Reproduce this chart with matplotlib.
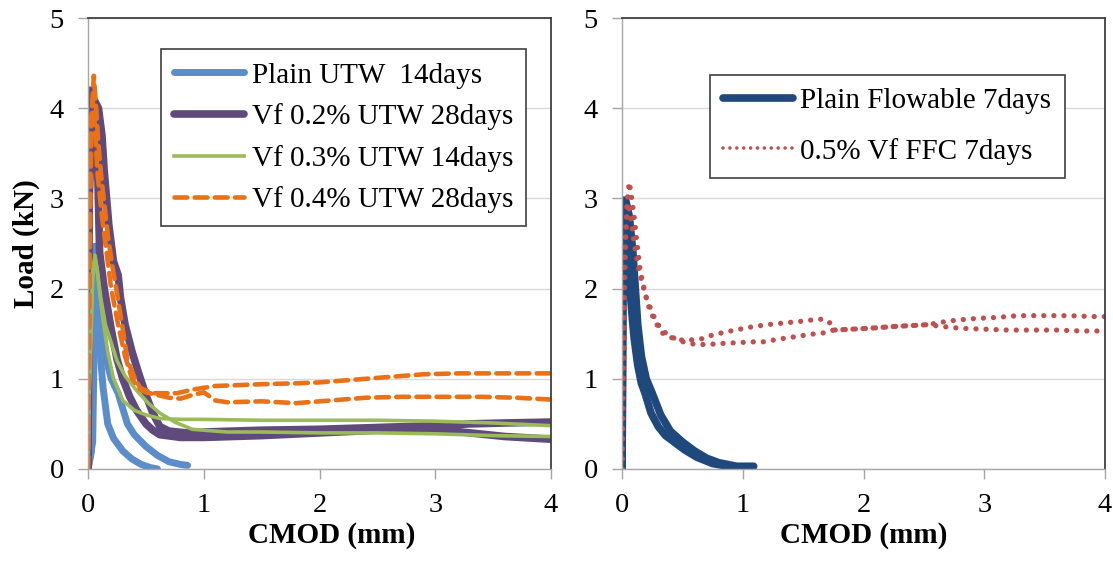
import matplotlib.pyplot as plt
from matplotlib.lines import Line2D

plt.rcParams['font.family'] = ['Liberation Serif', 'DejaVu Serif']

# ---- UTW specimens (two traces per mix) ----
plain_utw_a_x = [0.0, 0.03, 0.05, 0.06, 0.07, 0.09, 0.11, 0.13, 0.17, 0.22, 0.30, 0.38, 0.46, 0.54, 0.60]
plain_utw_a_y = [0.0, 0.2, 1.6, 2.47, 2.3, 1.7, 1.2, 0.9, 0.5, 0.34, 0.2, 0.11, 0.05, 0.015, 0.0]
plain_utw_b_x = [0.0, 0.04, 0.06, 0.07, 0.09, 0.12, 0.16, 0.20, 0.26, 0.34, 0.40, 0.50, 0.60, 0.70, 0.80, 0.86]
plain_utw_b_y = [0.0, 0.3, 1.9, 2.25, 2.0, 1.6, 1.2, 1.0, 0.84, 0.5, 0.38, 0.25, 0.15, 0.08, 0.05, 0.04]

vf02_a_x = [0.0, 0.005, 0.02, 0.05, 0.09, 0.12, 0.14, 0.18, 0.22, 0.26, 0.28, 0.32, 0.38, 0.44, 0.50,
            0.56, 0.62, 0.7, 0.85, 1.0, 1.5, 2.0, 2.5, 3.0, 3.3, 3.6, 4.0]
vf02_a_y = [0.0, 2.5, 4.2, 4.1, 4.0, 3.7, 3.3, 2.7, 2.3, 2.15, 1.9, 1.6, 1.3, 1.05, 0.82,
            0.62, 0.47, 0.42, 0.40, 0.41, 0.43, 0.44, 0.46, 0.48, 0.50, 0.51, 0.52]
vf02_b_x = [0.0, 0.01, 0.03, 0.06, 0.08, 0.10, 0.14, 0.2, 0.25, 0.3, 0.36, 0.42, 0.5, 0.56, 0.62,
            0.8, 1.0, 1.5, 2.0, 2.5, 2.8, 3.0, 3.3, 3.6, 4.0]
vf02_b_y = [0.0, 3.0, 3.7, 3.9, 3.5, 2.4, 2.0, 1.55, 1.22, 1.0, 0.8, 0.65, 0.5, 0.43, 0.38,
            0.35, 0.35, 0.37, 0.40, 0.43, 0.45, 0.44, 0.40, 0.36, 0.33]

vf03_a_x = [0.0, 0.01, 0.04, 0.06, 0.08, 0.10, 0.13, 0.17, 0.22, 0.30, 0.40, 0.50, 0.62, 0.8, 1.0,
            1.5, 2.0, 2.5, 3.0, 3.5, 4.0]
vf03_a_y = [0.0, 0.8, 2.1, 2.37, 2.2, 1.95, 1.65, 1.3, 1.0, 0.76, 0.65, 0.6, 0.56, 0.55, 0.55,
            0.54, 0.54, 0.54, 0.53, 0.51, 0.48]
vf03_b_x = [0.0, 0.01, 0.04, 0.06, 0.08, 0.11, 0.15, 0.2, 0.25, 0.32, 0.42, 0.52, 0.62, 0.75, 0.9,
            1.2, 1.5, 2.0, 2.5, 3.0, 3.5, 4.0]
vf03_b_y = [0.0, 0.9, 2.2, 2.35, 2.2, 1.9, 1.6, 1.4, 1.2, 1.03, 0.87, 0.73, 0.62, 0.52, 0.44,
            0.41, 0.41, 0.40, 0.40, 0.39, 0.37, 0.36]

vf04_a_x = [0.0, 0.01, 0.03, 0.05, 0.07, 0.09, 0.11, 0.13, 0.17, 0.21, 0.25, 0.30, 0.34, 0.40, 0.45,
            0.5, 0.56, 0.65, 0.77, 0.9, 1.0, 1.1, 1.3, 1.5, 1.8, 2.0, 2.3, 2.6, 2.9, 3.2, 3.5, 3.8, 4.0]
vf04_a_y = [0.0, 2.0, 3.9, 4.36, 4.0, 3.6, 3.3, 3.06, 2.6, 2.25, 1.95, 1.55, 1.21, 1.02, 0.9,
            0.87, 0.84, 0.84, 0.84, 0.88, 0.90, 0.92, 0.93, 0.94, 0.95, 0.96, 0.99, 1.02, 1.05, 1.06,
            1.06, 1.06, 1.06]
vf04_b_x = [0.0, 0.01, 0.02, 0.04, 0.06, 0.08, 0.12, 0.16, 0.2, 0.26, 0.32, 0.38, 0.45, 0.5, 0.6,
            0.7, 0.8, 0.9, 1.0, 1.1, 1.2, 1.5, 1.8, 2.1, 2.4, 2.7, 3.0, 3.4, 3.7, 4.0]
vf04_b_y = [0.0, 1.5, 3.6, 4.1, 3.8, 3.3, 2.8, 2.4, 2.0, 1.6, 1.25, 1.0, 0.88, 0.85, 0.82,
            0.79, 0.78, 0.82, 0.85, 0.76, 0.74, 0.75, 0.73, 0.76, 0.79, 0.80, 0.80, 0.80, 0.79, 0.77]

# ---- flowable fill specimens ----
flow_a_x = [0.0, 0.005, 0.01, 0.03, 0.06, 0.09, 0.11, 0.13, 0.16, 0.20, 0.25, 0.32, 0.40, 0.50,
            0.60, 0.7, 0.8, 0.95, 1.09]
flow_a_y = [0.0, 1.5, 2.98, 2.98, 2.8, 2.4, 2.0, 1.6, 1.25, 1.0, 0.84, 0.6, 0.42, 0.3,
            0.2, 0.12, 0.07, 0.03, 0.03]
flow_b_x = [0.0, 0.005, 0.01, 0.02, 0.04, 0.06, 0.08, 0.10, 0.13, 0.16, 0.19, 0.24, 0.3, 0.36,
            0.43, 0.52, 0.62, 0.75, 0.9, 1.05]
flow_b_y = [0.0, 1.5, 2.9, 2.85, 2.5, 2.1, 1.75, 1.45, 1.15, 0.95, 0.84, 0.62, 0.47, 0.37,
            0.3, 0.21, 0.13, 0.06, 0.025, 0.02]

ffc_a_x = [0.0, 0.01, 0.02, 0.04, 0.06, 0.08, 0.10, 0.12, 0.15, 0.19, 0.23, 0.28, 0.33, 0.40, 0.48,
           0.56, 0.65, 0.76, 0.9, 1.05, 1.2, 1.35, 1.5, 1.62, 1.68, 1.72, 1.75, 1.9, 2.05, 2.25,
           2.4, 2.53, 2.65, 2.8, 3.0, 3.2, 3.4, 3.6, 3.8, 4.0]
ffc_a_y = [0.0, 1.0, 2.2, 2.95, 3.18, 3.0, 2.8, 2.55, 2.2, 1.95, 1.76, 1.62, 1.51, 1.46, 1.43,
           1.43, 1.44, 1.49, 1.53, 1.57, 1.6, 1.62, 1.64, 1.66, 1.66, 1.62, 1.54, 1.55, 1.56, 1.58,
           1.59, 1.60, 1.58, 1.56, 1.55, 1.54, 1.54, 1.54, 1.53, 1.53]
ffc_b_x = [0.0, 0.01, 0.02, 0.03, 0.05, 0.07, 0.10, 0.14, 0.2, 0.26, 0.32, 0.40, 0.48, 0.56, 0.64,
           0.71, 0.8, 0.95, 1.1, 1.17, 1.3, 1.45, 1.6, 1.68, 1.75, 1.9, 2.05, 2.25, 2.4, 2.53,
           2.62, 2.7, 2.85, 2.95, 3.1, 3.28, 3.5, 3.7, 3.9, 4.0]
ffc_b_y = [0.0, 1.0, 2.0, 2.6, 2.95, 2.8, 2.5, 2.2, 1.9, 1.7, 1.55, 1.47, 1.42, 1.39, 1.38,
           1.38, 1.39, 1.40, 1.41, 1.41, 1.44, 1.47, 1.5, 1.51, 1.54, 1.55, 1.56, 1.58, 1.59, 1.60,
           1.62, 1.64, 1.66, 1.67, 1.68, 1.70, 1.70, 1.70, 1.69, 1.69]

x_ticks = [0, 1, 2, 3, 4]
y_ticks = [0, 1, 2, 3, 4, 5]

fig = plt.figure(figsize=(11.13, 5.63), dpi=100)
ax1 = fig.add_axes([0.0791, 0.167, 0.416, 0.801])
ax2 = fig.add_axes([0.5589, 0.167, 0.434, 0.801])

dot_style = dict(linestyle=(0, (0.01, 1.9)), dash_capstyle='round')
dash_style = dict(linestyle=(0, (2.8, 1.6)), dash_capstyle='round')

# left panel
ax1.plot(plain_utw_a_x, plain_utw_a_y, color='#5B8DCB', lw=5.0, solid_capstyle='round')
ax1.plot(plain_utw_b_x, plain_utw_b_y, color='#5B8DCB', lw=5.0, solid_capstyle='round')
ax1.plot(vf02_a_x, vf02_a_y, color='#604A7B', lw=5.5, solid_capstyle='round')
ax1.plot(vf02_b_x, vf02_b_y, color='#604A7B', lw=5.5, solid_capstyle='round')
ax1.plot(vf03_a_x, vf03_a_y, color='#9BBB59', lw=2.6)
ax1.plot(vf03_b_x, vf03_b_y, color='#9BBB59', lw=2.6)
ax1.plot(vf04_a_x, vf04_a_y, color='#EC7014', lw=3.3, **dash_style)
ax1.plot(vf04_b_x, vf04_b_y, color='#EC7014', lw=3.3, **dash_style)

# right panel
ax2.plot(flow_a_x, flow_a_y, color='#1F497D', lw=5.5, solid_capstyle='round')
ax2.plot(flow_b_x, flow_b_y, color='#1F497D', lw=5.5, solid_capstyle='round')
ax2.plot(ffc_a_x, ffc_a_y, color='#C0504D', lw=3.8, **dot_style)
ax2.plot(ffc_b_x, ffc_b_y, color='#C0504D', lw=3.8, **dot_style)

for ax in (ax1, ax2):
    ax.set_xlim(0, 4)
    ax.set_ylim(0, 5)
    ax.set_xticks(x_ticks)
    ax.set_yticks(y_ticks)
    ax.grid(axis='y', color='#D9D9D9', lw=1.0)
    ax.set_axisbelow(True)
    ax.tick_params(direction='out', length=7, width=1, color='#A6A6A6',
                   labelsize=20.5, pad=10.5)
    for side in ('left', 'bottom'):
        ax.spines[side].set_color('#A6A6A6')
        ax.spines[side].set_linewidth(1.0)
    for side in ('top', 'right'):
        ax.spines[side].set_color('#404040')
        ax.spines[side].set_linewidth(1.3)
    ax.set_xlabel('CMOD (mm)', fontsize=21, fontweight='bold', labelpad=3)

ax1.set_ylabel('Load (kN)', fontsize=21, fontweight='bold', labelpad=7)
# the left x label sits a little right of centre
ax1.xaxis.label.set_x(0.527)

h1 = [Line2D([], [], color='#5B8DCB', lw=5.0, solid_capstyle='round'),
      Line2D([], [], color='#604A7B', lw=5.5, solid_capstyle='round'),
      Line2D([], [], color='#9BBB59', lw=2.6),
      Line2D([], [], color='#EC7014', lw=3.3, **dash_style)]
labels1 = ['Plain UTW  14days', 'Vf 0.2% UTW 28days', 'Vf 0.3% UTW 14days', 'Vf 0.4% UTW 28days']
leg1 = ax1.legend(h1, labels1, loc='upper left', bbox_to_anchor=(0.158, 0.931),
                  borderaxespad=0, fontsize=21, handlelength=2.4, handletextpad=0.25,
                  labelspacing=0.5, borderpad=0.45, fancybox=False, framealpha=1)
leg1.get_frame().set_edgecolor('#404040')
leg1.get_frame().set_linewidth(1.2)

h2 = [Line2D([], [], color='#1F497D', lw=5.5, solid_capstyle='round'),
      Line2D([], [], color='#C0504D', lw=2.6, **dot_style)]
labels2 = ['Plain Flowable 7days', '0.5% Vf FFC 7days']
leg2 = ax2.legend(h2, labels2, loc='upper left', bbox_to_anchor=(0.182, 0.874),
                  borderaxespad=0, fontsize=21, handlelength=2.4, handletextpad=0.25,
                  labelspacing=0.8, borderpad=0.45, fancybox=False, framealpha=1)
leg2.get_frame().set_edgecolor('#404040')
leg2.get_frame().set_linewidth(1.2)

fig.savefig('out.png', dpi=100)
